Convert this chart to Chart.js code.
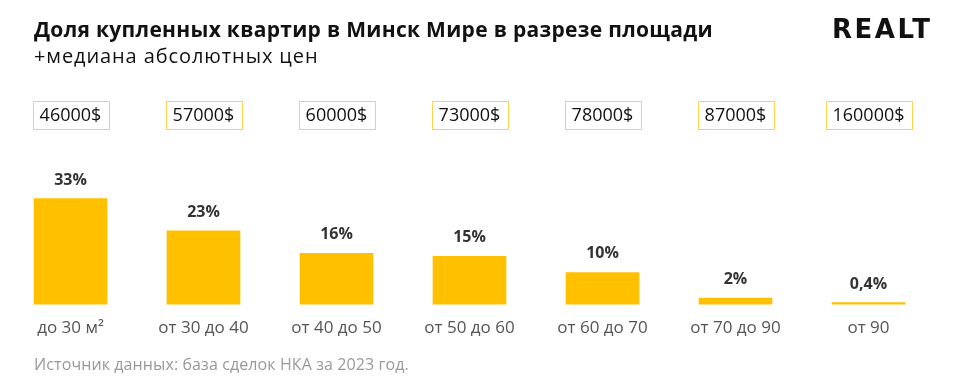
<!DOCTYPE html>
<html>
<head>
<meta charset="utf-8">
<script src="https://cdn.jsdelivr.net/npm/chart.js@4.4.1/dist/chart.umd.min.js"></script>
<style>
  html, body { margin: 0; padding: 0; background: #fff; }
  #wrap { position: relative; width: 956px; height: 384px; overflow: hidden; font-family: "Open Sans", sans-serif; }
  #c { position: absolute; left: 0; top: 0; }
  .title { position: absolute; left: 34px; top: 15px; font-size: 21px; font-weight: 700; color: #111; white-space: nowrap; letter-spacing: 0.3px; }
  .subtitle { position: absolute; left: 34px; top: 42px; font-size: 20px; font-weight: 400; color: #111; white-space: nowrap; letter-spacing: 0.9px; }
  .logo { position: absolute; left: 832px; top: 14px; font-family: "DejaVu Sans", sans-serif; font-size: 26px; font-weight: 900; color: #111; letter-spacing: 2.5px; white-space: nowrap; }
  .source { position: absolute; left: 34px; top: 353px; font-size: 16px; color: #999; white-space: nowrap; letter-spacing: 0.1px; }
</style>
</head>
<body>
<div id="wrap">
  <canvas id="c" width="956" height="384"></canvas>
  <div class="title">Доля купленных квартир в Минск Мире в разрезе площади</div>
  <div class="subtitle">+медиана абсолютных цен</div>
  <div class="logo">REALT</div>
  <div class="source">Источник данных: база сделок НКА за 2023 год.</div>
</div>
<script>
const categories = ["до 30 м²", "от 30 до 40", "от 40 до 50", "от 50 до 60", "от 60 до 70", "от 70 до 90", "от 90"];
const shares = [33, 23, 16, 15, 10, 2, 0.4];
const shareLabels = ["33%", "23%", "16%", "15%", "10%", "2%", "0,4%"];
const medianPrices = ["46000$", "57000$", "60000$", "73000$", "78000$", "87000$", "160000$"];

const annotations = {
  id: 'annotations',
  afterDatasetsDraw(chart) {
    const ctx = chart.ctx;
    const meta = chart.getDatasetMeta(0);
    ctx.save();
    meta.data.forEach((bar, i) => {
      ctx.font = '700 16px "Open Sans", sans-serif';
      ctx.fillStyle = '#333';
      ctx.textAlign = 'center';
      ctx.textBaseline = 'alphabetic';
      ctx.fillText(shareLabels[i], bar.x, bar.y - 14);
      ctx.font = '400 18px "Open Sans", sans-serif';
      const w = Math.round(ctx.measureText(medianPrices[i]).width + 14);
      const h = 28;
      const top = 101;
      const left = Math.round(bar.x - w / 2);
      ctx.fillStyle = '#FFD24D';
      ctx.fillRect(left, top, w, 1);
      ctx.fillRect(left, top + h, w + 1, 1);
      ctx.fillRect(left, top, 1, h);
      ctx.fillRect(left + w, top, 1, h);
      ctx.fillStyle = '#111';
      ctx.textBaseline = 'middle';
      ctx.fillText(medianPrices[i], bar.x, top + h / 2 + 1);
    });
    ctx.restore();
  }
};

new Chart(document.getElementById('c'), {
  type: 'bar',
  data: {
    labels: categories,
    datasets: [{
      data: shares,
      backgroundColor: '#FFC000',
      borderWidth: 0,
      barThickness: 73,
      minBarLength: 2
    }]
  },
  options: {
    responsive: false,
    animation: false,
    layout: { padding: { left: 4, right: 21, top: 144, bottom: 33 } },
    plugins: { legend: { display: false }, tooltip: { enabled: false }, title: { display: false } },
    scales: {
      y: { display: false, min: 0, max: 50 },
      x: {
        grid: { display: false, drawTicks: false },
        border: { display: false },
        ticks: { color: '#555', font: { family: '"Open Sans", sans-serif', size: 17 }, padding: 13 }
      }
    }
  },
  plugins: [annotations]
});
</script>
</body>
</html>
